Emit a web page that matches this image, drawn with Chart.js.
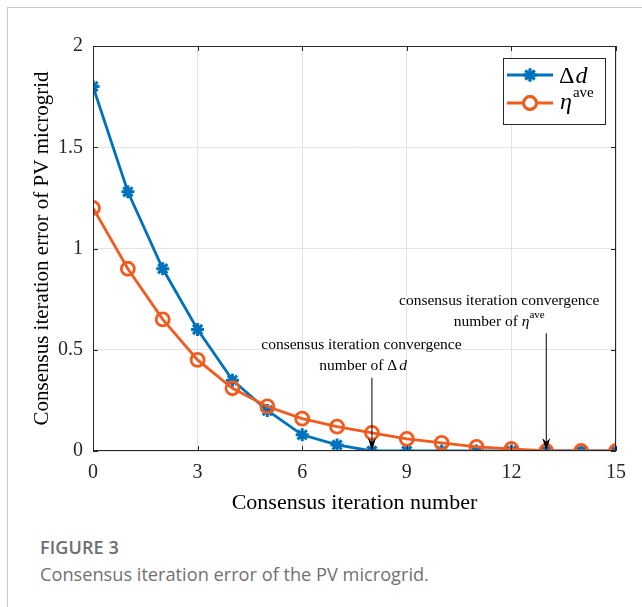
<!DOCTYPE html>
<html>
<head>
<meta charset="utf-8">
<script src="https://cdn.jsdelivr.net/npm/chart.js@4.4.1/dist/chart.umd.min.js"></script>
<style>
  html, body { margin: 0; padding: 0; background: #fff; }
  body { width: 642px; height: 607px; position: relative; overflow: hidden; }
  #frame { position: absolute; left: 7px; top: 7px; width: 700px; height: 700px;
           border-top: 1.5px solid #c8c8c8; border-left: 1.5px solid #c8c8c8; }
  #wrap { position: absolute; left: 0; top: 0; width: 642px; height: 516px; }
  #cap1 { position: absolute; left: 40px; top: 535px; font-family: "Open Sans", "Lato", sans-serif;
          font-weight: 600; font-size: 18px; color: #6e6e6e; letter-spacing: 0.1px; }
  #cap2 { position: absolute; left: 40px; top: 562px; font-family: "Open Sans", "Lato", sans-serif;
          font-size: 18.2px; color: #717171; }
</style>
</head>
<body>
<div id="frame"></div>
<div id="wrap"><canvas id="c"></canvas></div>
<div id="cap1">FIGURE 3</div>
<div id="cap2">Consensus iteration error of the PV microgrid.</div>
<script>
// ---- data ----
const iterations = [0,1,2,3,4,5,6,7,8,9,10,11,12,13,14,15];
const deltaD   = [1.8,1.28,0.9,0.6,0.35,0.2,0.08,0.03,0,0,0,0,0,0,0,0];
const etaAve   = [1.2,0.9,0.65,0.45,0.31,0.22,0.16,0.12,0.09,0.06,0.04,0.02,0.01,0,0,0];
const xTicks = [0,3,6,9,12,15];
const yTicks = [0,0.5,1,1.5,2];
const yTickLabels = ["0","0.5","1","1.5","2"];
const convDeltaD = 8;   // convergence iteration of Δd
const convEta = 13;     // convergence iteration of η^ave

const BLUE = '#0072BD';
const ORANGE = '#F25B1E';
const SERIF = '"Liberation Serif", "Times New Roman", serif';

function pts(arr){ return arr.map((v,i)=>({x: iterations[i], y: v})); }

const framePlugin = {
  id: 'frame',
  afterDatasetsDraw(chart) {
    const {ctx, chartArea: a, scales: {x, y}} = chart;
    ctx.save();
    // box
    ctx.strokeStyle = '#262626';
    ctx.lineWidth = 1;
    ctx.strokeRect(a.left + 0.5, a.top + 0.5, a.right - a.left - 1, a.bottom - a.top - 1);
    // inner ticks
    const tl = 5;
    ctx.beginPath();
    xTicks.forEach(v => {
      const px = Math.round(x.getPixelForValue(v)) + 0.5;
      ctx.moveTo(px, a.bottom); ctx.lineTo(px, a.bottom - tl);
      ctx.moveTo(px, a.top); ctx.lineTo(px, a.top + tl);
    });
    yTicks.forEach(v => {
      const py = Math.round(y.getPixelForValue(v)) + 0.5;
      ctx.moveTo(a.left, py); ctx.lineTo(a.left + tl, py);
      ctx.moveTo(a.right, py); ctx.lineTo(a.right - tl, py);
    });
    ctx.stroke();

    // annotations
    function arrow(xv, topPx) {
      const px = x.getPixelForValue(xv);
      const tip = y.getPixelForValue(0);
      ctx.strokeStyle = '#000';
      ctx.lineWidth = 1;
      ctx.beginPath();
      ctx.moveTo(px, topPx); ctx.lineTo(px, tip - 6); ctx.stroke();
      ctx.fillStyle = '#000';
      ctx.beginPath();
      ctx.moveTo(px, tip);
      ctx.lineTo(px - 4, tip - 13);
      ctx.lineTo(px, tip - 9);
      ctx.lineTo(px + 4, tip - 13);
      ctx.closePath();
      ctx.fill();
    }
    ctx.fillStyle = '#000';
    ctx.textBaseline = 'alphabetic';
    ctx.textAlign = 'center';
    // annotation 1 (Δd)
    const c1 = x.getPixelForValue(7.7);
    const b1 = y.getPixelForValue(0.5);
    ctx.font = '15.5px ' + SERIF;
    ctx.fillText('consensus iteration convergence', c1, b1 - 1);
    ctx.textAlign = 'left';
    const s1a = 'number of ', s1b = 'Δ', s1c = 'd';
    ctx.font = '15.5px ' + SERIF;
    const w1a = ctx.measureText(s1a).width, w1b = ctx.measureText(s1b).width;
    ctx.font = 'italic 15.5px ' + SERIF;
    const w1c = ctx.measureText(s1c).width;
    let sx = x.getPixelForValue(7.75) - (w1a + w1b + 2 + w1c) / 2;
    const by1 = b1 + 20;
    ctx.font = '15.5px ' + SERIF; ctx.fillText(s1a, sx, by1); sx += w1a;
    ctx.fillText(s1b, sx, by1); sx += w1b + 2;
    ctx.font = 'italic 15.5px ' + SERIF; ctx.fillText(s1c, sx, by1);
    arrow(convDeltaD, by1 + 8);

    // annotation 2 (η^ave)
    ctx.textAlign = 'center';
    const c2 = x.getPixelForValue(11.65);
    const b2 = y.getPixelForValue(0.72);
    ctx.font = '15.5px ' + SERIF;
    ctx.fillText('consensus iteration convergence', c2, b2);
    ctx.textAlign = 'left';
    const s2a = 'number of ', s2b = 'η', s2c = 'ave';
    ctx.font = '15.5px ' + SERIF;
    const w2a = ctx.measureText(s2a).width;
    ctx.font = 'italic 15.5px ' + SERIF;
    const w2b = ctx.measureText(s2b).width;
    ctx.font = '11px ' + SERIF;
    const w2c = ctx.measureText(s2c).width;
    let sx2 = x.getPixelForValue(11.65) - (w2a + w2b + w2c) / 2;
    const by2 = b2 + 21;
    ctx.font = '15.5px ' + SERIF; ctx.fillText(s2a, sx2, by2); sx2 += w2a;
    ctx.font = 'italic 15.5px ' + SERIF; ctx.fillText(s2b, sx2, by2); sx2 += w2b;
    ctx.font = '11px ' + SERIF; ctx.fillText(s2c, sx2, by2 - 8);
    arrow(convEta, by2 + 7);

    // legend
    const lx = a.right - 113, ly = a.top + 12, lw = 102, lh = 66;
    ctx.fillStyle = '#fff';
    ctx.fillRect(lx, ly, lw, lh);
    ctx.strokeStyle = '#262626'; ctx.lineWidth = 1;
    ctx.strokeRect(lx + 0.5, ly + 0.5, lw, lh);
    const rows = [
      {color: BLUE, style: 'star', y: ly + 17},
      {color: ORANGE, style: 'circle', y: ly + 45}
    ];
    rows.forEach(r => {
      ctx.strokeStyle = r.color; ctx.lineWidth = 2.8;
      ctx.beginPath(); ctx.moveTo(lx + 4, r.y); ctx.lineTo(lx + 50, r.y); ctx.stroke();
      Chart.helpers.drawPoint(ctx, {pointStyle: r.style, radius: 6.5, borderWidth: 2.8, rotation: 0}, lx + 27, r.y);
      ctx.stroke();
    });
    ctx.fillStyle = '#000';
    ctx.textAlign = 'left';
    ctx.font = '24px ' + SERIF;
    ctx.fillText('Δ', lx + 56, rows[0].y + 8);
    const wD = ctx.measureText('Δ').width;
    ctx.font = 'italic 24px ' + SERIF;
    ctx.fillText('d', lx + 56 + wD + 1, rows[0].y + 8);
    ctx.font = 'italic 24px ' + SERIF;
    ctx.fillText('η', lx + 57, rows[1].y + 6);
    const wE = ctx.measureText('η').width;
    ctx.font = '15px ' + SERIF;
    ctx.fillText('ave', lx + 57 + wE + 1, rows[1].y - 6);
    ctx.restore();
  }
};

new Chart(document.getElementById('c'), {
  type: 'line',
  data: {
    datasets: [
      { label: 'Δd', data: pts(deltaD), borderColor: BLUE, backgroundColor: BLUE,
        borderWidth: 2.8, pointStyle: 'star', pointRadius: 6.5, pointBorderWidth: 3,
        pointBorderColor: BLUE, tension: 0, order: 2 },
      { label: 'ηave', data: pts(etaAve), borderColor: ORANGE, backgroundColor: 'rgba(0,0,0,0)',
        borderWidth: 2.8, pointStyle: 'circle', pointRadius: 6.5, pointBorderWidth: 2.8,
        pointBorderColor: ORANGE, pointBackgroundColor: 'rgba(0,0,0,0)', tension: 0, order: 1 }
    ]
  },
  options: {
    responsive: true,
    maintainAspectRatio: false,
    animation: false,
    layout: { padding: { left: 30, right: 26, top: 46, bottom: 0 } },
    plugins: { legend: { display: false }, tooltip: { enabled: false } },
    scales: {
      x: {
        type: 'linear', min: 0, max: 15,
        afterBuildTicks(s) { s.ticks = xTicks.map(v => ({value: v})); },
        afterFit(s) { s.height = 65; },
        ticks: { color: '#262626', font: { family: SERIF, size: 20 }, padding: 10, maxRotation: 0,
                 callback: v => String(v) },
        grid: { color: '#e3e3e3', lineWidth: 1, drawTicks: false },
        border: { display: false },
        title: { display: true, text: 'Consensus iteration number', color: '#000',
                 font: { family: SERIF, size: 22 }, padding: { top: 0, bottom: 0 } }
      },
      y: {
        type: 'linear', min: 0, max: 2,
        afterBuildTicks(s) { s.ticks = yTicks.map(v => ({value: v})); },
        afterFit(s) { s.width = 63; },
        ticks: { color: '#262626', font: { family: SERIF, size: 20 }, padding: 10,
                 callback: v => yTickLabels[yTicks.indexOf(v)] },
        grid: { color: '#e3e3e3', lineWidth: 1, drawTicks: false },
        border: { display: false },
        title: { display: true, text: 'Consensus iteration error of PV microgrid', color: '#000',
                 font: { family: SERIF, size: 21 }, padding: { top: 0, bottom: 0 } }
      }
    }
  },
  plugins: [framePlugin]
});
</script>
</body>
</html>
